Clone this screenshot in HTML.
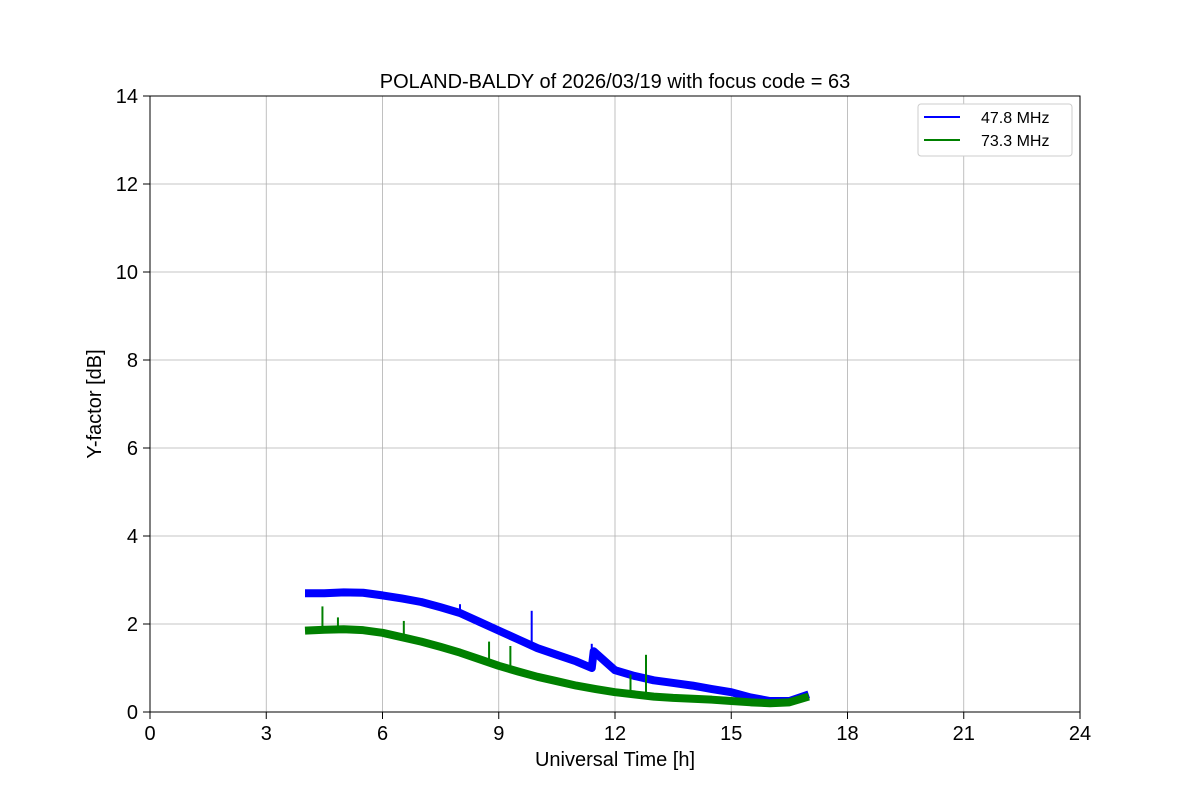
<!DOCTYPE html>
<html><head><meta charset="utf-8"><style>
body{margin:0;background:#fff;}
svg text{font-family:"Liberation Sans","DejaVu Sans",sans-serif;}
</style></head><body>
<svg id="chart" width="1200" height="800" xmlns="http://www.w3.org/2000/svg">
<rect width="1200" height="800" fill="#fff"/>
<g id="grid"></g>
<g id="series"></g>
<rect x="150" y="96" width="930" height="616" fill="none" stroke="#000" stroke-width="1"/>
<g id="ticks"></g>
<text x="615" y="88" font-size="20" text-anchor="middle">POLAND-BALDY of 2026/03/19 with focus code = 63</text>
<text x="615" y="766" font-size="20" text-anchor="middle">Universal Time [h]</text>
<text x="101" y="404" font-size="20" text-anchor="middle" transform="rotate(-90 101 404)">Y-factor [dB]</text>
<g>
<rect x="918" y="104" width="154" height="52" rx="3" fill="#fff" stroke="#ccc"/>
<line x1="924" y1="117" x2="960" y2="117" stroke="#0000ff" stroke-width="2"/>
<text x="981" y="123" font-size="16">47.8 MHz</text>
<line x1="924" y1="140" x2="960" y2="140" stroke="#008000" stroke-width="2"/>
<text x="981" y="146" font-size="16">73.3 MHz</text>
</g>
</svg>
<script>
const xTicks=[0,3,6,9,12,15,18,21,24];
const yTicks=[0,2,4,6,8,10,12,14];
const blueT=[4,4.5,5,5.5,6,6.5,7,7.5,8,8.5,9,9.5,10,10.5,11,11.4,11.45,12,12.5,13,13.5,14,14.5,15,15.5,16,16.5,17];
const blueV=[2.7,2.7,2.72,2.71,2.65,2.58,2.5,2.38,2.25,2.05,1.85,1.65,1.45,1.3,1.15,1.0,1.38,0.95,0.82,0.72,0.66,0.6,0.52,0.45,0.33,0.25,0.25,0.4];
const greenT=[4,4.5,5,5.5,6,6.5,7,7.5,8,8.5,9,9.5,10,10.5,11,11.5,12,12.5,13,13.5,14,14.5,15,15.5,16,16.5,17];
const greenV=[1.85,1.87,1.88,1.86,1.8,1.7,1.6,1.48,1.35,1.2,1.05,0.92,0.8,0.7,0.6,0.52,0.45,0.4,0.35,0.32,0.3,0.28,0.25,0.22,0.2,0.22,0.35];
const blueSpikeT=[8,9.85,11.4];
const blueSpikeV=[2.45,2.3,1.55];
const greenSpikeT=[4.45,4.85,6.55,8.75,9.3,12.4,12.8];
const greenSpikeV=[2.4,2.15,2.07,1.6,1.5,0.85,1.3];
const NS='http://www.w3.org/2000/svg';
function xs(t){return 150+t/24*930;}
function ys(v){return 712-v/14*616;}
function mk(tag,attrs,parent){const e=document.createElementNS(NS,tag);for(const k in attrs)e.setAttribute(k,attrs[k]);parent.appendChild(e);return e;}
const grid=document.getElementById('grid'),ticks=document.getElementById('ticks'),ser=document.getElementById('series');
xTicks.forEach(t=>{
 const g=mk('line',{x1:xs(t),x2:xs(t),y1:96,y2:712,stroke:'#b0b0b0','stroke-width':0.8},grid);
 
 
 const tk=mk('line',{x1:xs(t),x2:xs(t),y1:712,y2:719,stroke:'#000'},ticks);
 
 
 const tx=mk('text',{x:xs(t),y:740,'font-size':20,'text-anchor':'middle'},ticks);tx.textContent=t;
 
 
});
yTicks.forEach(v=>{
 const g=mk('line',{x1:150,x2:1080,y1:ys(v),y2:ys(v),stroke:'#b0b0b0','stroke-width':0.8},grid);
 
 
 const tk=mk('line',{x1:143,x2:150,y1:ys(v),y2:ys(v),stroke:'#000'},ticks);
 
 
 const tx=mk('text',{x:138,y:ys(v)+7,'font-size':20,'text-anchor':'end'},ticks);tx.textContent=v;
 
 
});
function drawSeries(T,V,ST,SV,color,name){
 const pts=T.map((t,i)=>xs(t)+','+ys(V[i])).join(' ');
 const p=mk('polyline',{points:pts,fill:'none',stroke:color,'stroke-width':8,'stroke-linejoin':'round'},ser);
 
 
 ST.forEach((t,i)=>{
  let k=0;while(k<T.length-2&&T[k+1]<t)k++;
  const base=V[k]+(V[k+1]-V[k])*(t-T[k])/(T[k+1]-T[k]);
  const s=mk('line',{x1:xs(t),x2:xs(t),y1:ys(base),y2:ys(SV[i]),stroke:color,'stroke-width':2},ser);
  
  
 });
}
drawSeries(blueT,blueV,blueSpikeT,blueSpikeV,'#0000ff','series-47mhz');
drawSeries(greenT,greenV,greenSpikeT,greenSpikeV,'#008000','series-73mhz');
</script>
</body></html>
